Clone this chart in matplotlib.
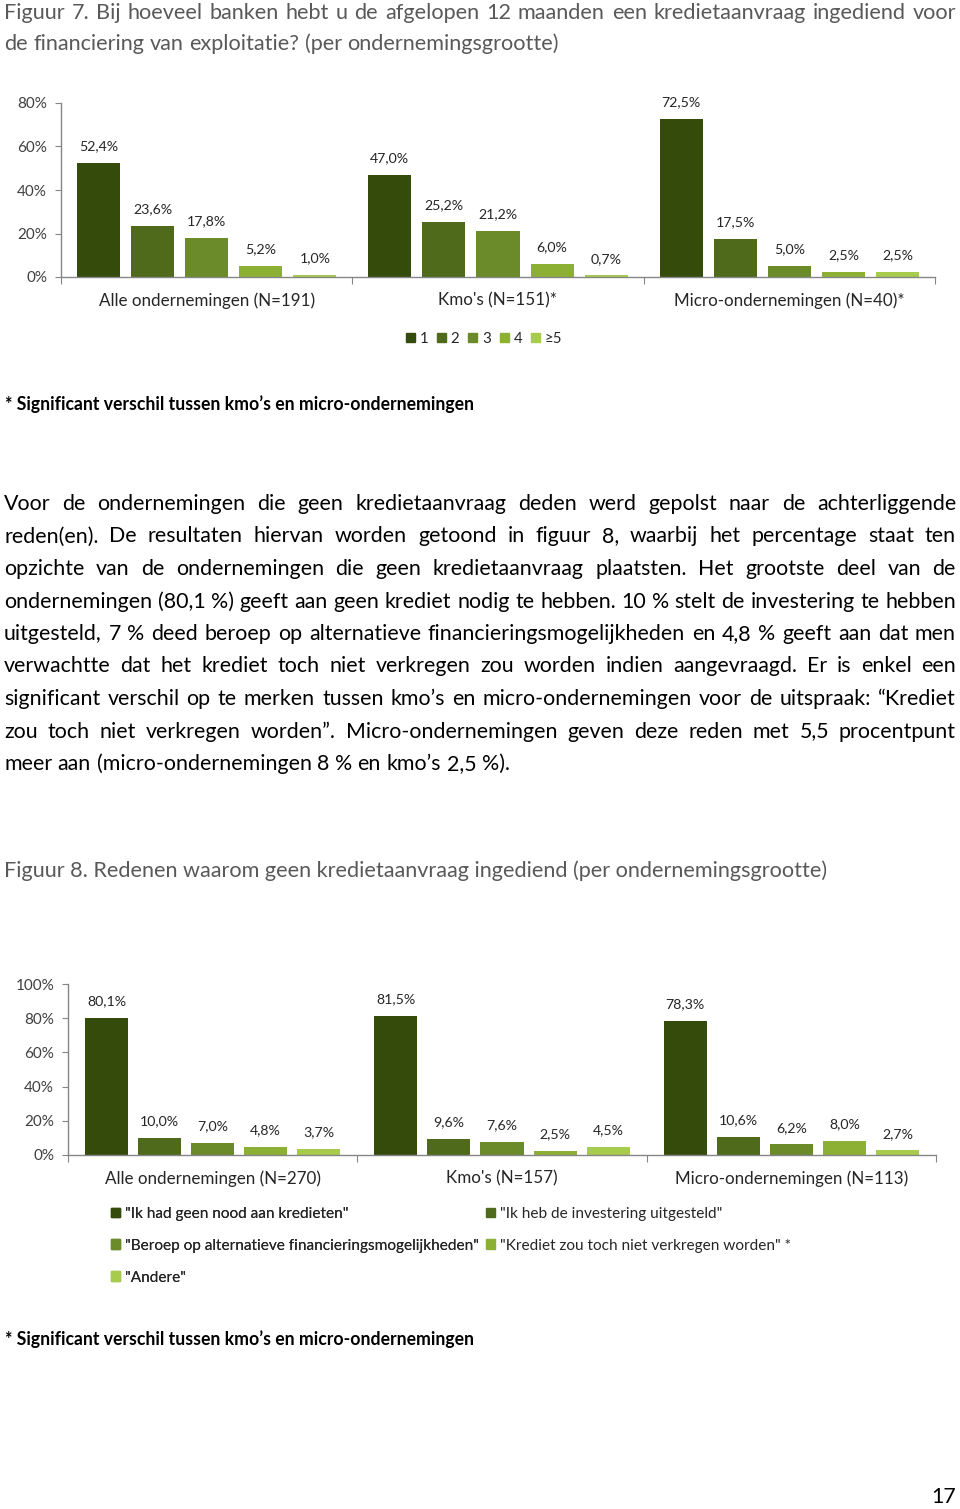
import matplotlib
matplotlib.use('Agg')
import matplotlib.pyplot as plt
from matplotlib.patches import Patch

W, H = 960, 1509
FONT = ['Lato', 'DejaVu Sans']
plt.rcParams['font.family'] = FONT

# Figure 7 data: number of banks, per company size
groups1 = ['Alle ondernemingen (N=191)', "Kmo's (N=151)*", 'Micro-ondernemingen (N=40)*']
series1 = ['1', '2', '3', '4', '≥5']
values1 = [
    [52.4, 23.6, 17.8, 5.2, 1.0],
    [47.0, 25.2, 21.2, 6.0, 0.7],
    [72.5, 17.5, 5.0, 2.5, 2.5],
]

# Figure 8 data: reasons for not applying, per company size
groups2 = ['Alle ondernemingen (N=270)', "Kmo's (N=157)", 'Micro-ondernemingen (N=113)']
series2 = ['"Ik had geen nood aan kredieten"',
           '"Ik heb de investering uitgesteld"',
           '"Beroep op alternatieve financieringsmogelijkheden"',
           '"Krediet zou toch niet verkregen worden" *',
           '"Andere"']
values2 = [
    [80.1, 10.0, 7.0, 4.8, 3.7],
    [81.5, 9.6, 7.6, 2.5, 4.5],
    [78.3, 10.6, 6.2, 8.0, 2.7],
]

colors = ['#344b0c', '#4f6a1b', '#6b8b2a', '#8cb034', '#a7cb4c']

title7 = ['Figuur 7. Bij hoeveel banken hebt u de afgelopen 12 maanden een kredietaanvraag ingediend voor',
          'de financiering van exploitatie? (per ondernemingsgrootte)']
title8 = 'Figuur 8. Redenen waarom geen kredietaanvraag ingediend (per ondernemingsgrootte)'
footnote = '* Significant verschil tussen kmo’s en micro-ondernemingen'
paragraph = [
    'Voor de ondernemingen die geen kredietaanvraag deden werd gepolst naar de achterliggende',
    'reden(en). De resultaten hiervan worden getoond in figuur 8, waarbij het percentage staat ten',
    'opzichte van de ondernemingen die geen kredietaanvraag plaatsten. Het grootste deel van de',
    'ondernemingen (80,1 %) geeft aan geen krediet nodig te hebben. 10 % stelt de investering te hebben',
    'uitgesteld, 7 % deed beroep op alternatieve financieringsmogelijkheden en 4,8 % geeft aan dat men',
    'verwachtte dat het krediet toch niet verkregen zou worden indien aangevraagd. Er is enkel een',
    'significant verschil op te merken tussen kmo’s en micro-ondernemingen voor de uitspraak: “Krediet',
    'zou toch niet verkregen worden”. Micro-ondernemingen geven deze reden met 5,5 procentpunt',
    'meer aan (micro-ondernemingen 8 % en kmo’s 2,5 %).',
]

fig = plt.figure(figsize=(W / 100, H / 100), dpi=100)
fig.patch.set_facecolor('white')
renderer = fig.canvas.get_renderer()


def fx(x):
    return x / W


def fy(y):
    return 1 - y / H


def text_width(s, size, weight='normal'):
    t = fig.text(0, 0, s, fontsize=size, fontweight=weight)
    w = t.get_window_extent(renderer).width
    t.remove()
    return w


def fit_size(s, width, weight='normal'):
    return 10 * width / text_width(s, 10, weight)


def justified(line, y, size, color, x0=4, x1=956, last=False):
    words = line.split(' ')
    widths = [text_width(w, size) for w in words]
    if last:
        gap = text_width('a a', size) - text_width('aa', size)
    else:
        gap = (x1 - x0 - sum(widths)) / (len(words) - 1)
    x = x0
    for w, wd in zip(words, widths):
        fig.text(fx(x), fy(y), w, fontsize=size, color=color, va='baseline', ha='left')
        x += wd + gap


def fmt(v):
    return f'{v:.1f}'.replace('.', ',') + '%'


def draw_chart(left, right, top, bottom, groups, values, ymax, yticks, margin, step, width, cat_size):
    ax = fig.add_axes([fx(left), fy(bottom), (right - left) / W, (bottom - top) / H])
    for g, vals in enumerate(values):
        for s, v in enumerate(vals):
            x = g - 0.5 + margin + s * step + width / 2
            ax.bar(x, v, width, color=colors[s], zorder=2)
            ax.annotate(fmt(v), (x, v), xytext=(0, 12), textcoords='offset points',
                        ha='center', va='center', fontsize=10.2, color='#262626')
    ax.set_xlim(-0.5, len(groups) - 0.5)
    ax.set_ylim(0, ymax)
    ax.set_yticks(yticks)
    ax.set_yticklabels([f'{t}%' for t in yticks])
    ax.set_xticks([i - 0.5 for i in range(len(groups) + 1)])
    ax.set_xticklabels([])
    ax.set_xticks(range(len(groups)), minor=True)
    ax.set_xticklabels(groups, minor=True, fontsize=cat_size, color='#262626')
    ax.tick_params(axis='x', which='major', length=5, color='#868686', direction='out')
    ax.tick_params(axis='x', which='minor', length=0, pad=11)
    ax.tick_params(axis='y', length=4, color='#868686', labelsize=11, labelcolor='#404040', pad=6)
    for side in ['top', 'right']:
        ax.spines[side].set_visible(False)
    for side in ['left', 'bottom']:
        ax.spines[side].set_color('#868686')
        ax.spines[side].set_linewidth(1.0)
    ax.set_facecolor('none')
    return ax


# titles and text
title_size = fit_size(title7[1], 555)
justified(title7[0], 19, title_size, '#595959')
justified(title7[1], 50, title_size, '#595959', last=True)

cat_size = fit_size(groups1[0], 216)

draw_chart(61, 935, 103, 277, groups1, values1, 80, [0, 20, 40, 60, 80],
           16 / 291, 54 / 291, 43 / 291, cat_size)
fig.legend([Patch(color=c) for c in colors], series1, loc='center',
           bbox_to_anchor=(fx(484), fy(339)), ncol=5, frameon=False,
           handlelength=0.6, handleheight=0.6, handletextpad=0.3,
           columnspacing=0.6, fontsize=10.8, labelcolor='#262626')

foot_size = fit_size(footnote, 469, 'bold')
fig.text(fx(5), fy(410), footnote, fontsize=foot_size, fontweight='bold', va='baseline')

body_size = fit_size(paragraph[3], 945)
for i, line in enumerate(paragraph):
    justified(line, 510 + i * 32.5, body_size, 'black', last=(i == len(paragraph) - 1))

fig.text(fx(4), fy(877), title8, fontsize=fit_size(title8, 822), color='#595959', va='baseline')

draw_chart(68, 936, 984, 1155, groups2, values2, 100, [0, 20, 40, 60, 80, 100],
           17 / 289, 53 / 289, 43 / 289, cat_size)

leg_size = fit_size(series2[0], 225)
handles2 = [Patch(color=c) for c in colors]
leg_kw = dict(frameon=False, handlelength=0.6, handleheight=0.6, handletextpad=0.3,
              labelspacing=1.15, fontsize=leg_size, labelcolor='#262626', loc='upper left',
              borderaxespad=0, borderpad=0)
leg_a = fig.legend([handles2[0], handles2[2], handles2[4]], [series2[0], series2[2], series2[4]],
                   bbox_to_anchor=(fx(111), fy(1207)), **leg_kw)
fig.add_artist(leg_a)
fig.legend([handles2[1], handles2[3]], [series2[1], series2[3]],
           bbox_to_anchor=(fx(486), fy(1207)), **leg_kw)

fig.text(fx(5), fy(1345), footnote, fontsize=foot_size, fontweight='bold', va='baseline')
fig.text(fx(956), fy(1503), '17', fontsize=body_size, va='baseline', ha='right')

fig.savefig('out.png', dpi=100, facecolor='white')
